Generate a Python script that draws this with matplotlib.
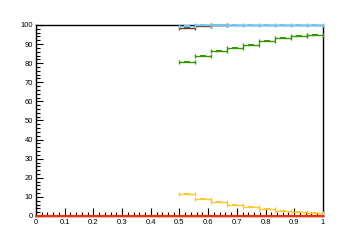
import numpy as np
import matplotlib
matplotlib.use('Agg')
import matplotlib.pyplot as plt
from matplotlib.ticker import MultipleLocator

plt.rcParams['font.family'] = ['Liberation Sans', 'DejaVu Sans']

# bin edges (9 bins from 0.5 to 1)
edges = np.linspace(0.5, 1.0, 10)
centers = (edges[:-1] + edges[1:]) / 2
halfw = (edges[1] - edges[0]) / 2

blue = [99.6, 100, 100, 100, 100, 100, 100, 100, 100]
brown = [98.3, 99.3, 100]
green = [80.6, 83.5, 86.2, 88.0, 89.6, 91.5, 93.0, 94.0, 95.0]
orange = [11.6, 9.0, 7.2, 5.8, 4.8, 3.6, 2.6, 2.1, 1.6]

# empty histogram over full range
red_edges = np.linspace(0, 1, 19)
red = np.zeros(18)

fig = plt.figure(figsize=(3.6, 2.4), dpi=100)
ax = fig.add_axes([0.1, 0.1, 0.797, 0.796])

# flat rectangular marker
rect = [(-1, -0.5), (1, -0.5), (1, 0.5), (-1, 0.5), (-1, -0.5)]

def draw(vals, col):
    n = len(vals)
    ax.errorbar(centers[:n], vals, xerr=halfw, fmt='none', ecolor=col,
                elinewidth=1.0, capsize=1.6, capthick=1.0, clip_on=False, zorder=4)
    ax.plot(centers[:n], vals, ls='none', marker=rect, ms=3.8, mew=0,
            color=col, clip_on=False, zorder=4)

ax.step(red_edges, np.append(red, red[-1]), where='post', color='#ff2a00', lw=1.5, clip_on=False, zorder=5)
draw(orange, '#ffc832')
draw(green, '#339900')
draw(brown, '#6b3a12')
draw(blue, '#66ccff')

ax.set_xlim(0, 1)
ax.set_ylim(0, 100)
ax.xaxis.set_minor_locator(MultipleLocator(0.02))
ax.yaxis.set_major_locator(MultipleLocator(10))
ax.yaxis.set_minor_locator(MultipleLocator(2))
ax.set_xticks(np.arange(0, 1.01, 0.1))
ax.set_xticklabels(['0', '0.1', '0.2', '0.3', '0.4', '0.5', '0.6', '0.7', '0.8', '0.9', '1'])
ax.tick_params(which='both', direction='in', labelsize=5.5, width=0.8, pad=2)
ax.tick_params(which='major', length=6)
ax.tick_params(which='minor', length=3)
ax.tick_params(axis='y', which='major', length=5)
for s in ax.spines.values():
    s.set_linewidth(1.0)
    s.set_zorder(1)

fig.savefig('out.png', dpi=100)
